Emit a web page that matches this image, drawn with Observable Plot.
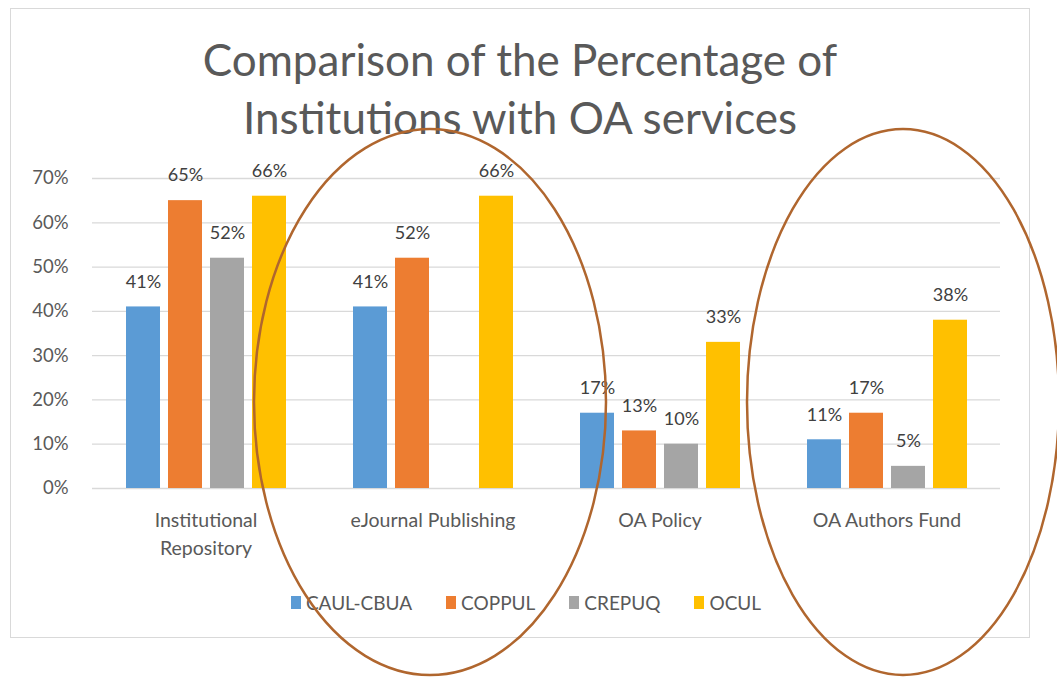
<!DOCTYPE html>
<html>
<head>
<meta charset="utf-8">
<script src="https://cdn.jsdelivr.net/npm/d3@7"></script>
<script src="https://cdn.jsdelivr.net/npm/@observablehq/plot@0.6"></script>
<style>
  html, body { margin: 0; padding: 0; background: #fff; }
  body { width: 1057px; height: 677px; position: relative; overflow: hidden; font-family: Lato, "Open Sans", sans-serif; }
  #frame { position: absolute; left: 10px; top: 8px; width: 1020px; height: 630px; border: 1px solid #d9d9d9; box-sizing: border-box; }
  #title { position: absolute; left: 10px; top: 30px; width: 1020px; text-align: center; font-size: 44px; line-height: 58px; color: #595959; }
  #chart { position: absolute; left: 10px; top: 150px; }
  #legend { position: absolute; left: 16px; top: 590px; width: 1020px; height: 24px; display: flex; justify-content: center; align-items: center; gap: 34px; font-size: 19px; color: #595959; }
  .item { display: flex; align-items: center; gap: 5px; }
  .sw { width: 10px; height: 13px; display: inline-block; }
  #overlay { position: absolute; left: 0; top: 0; pointer-events: none; }
</style>
</head>
<body>
<div id="frame"></div>
<div id="title">Comparison of the Percentage of<br>Institutions with OA services</div>
<div id="chart"></div>
<div id="legend"></div>
<svg id="overlay" width="1057" height="677">
  <ellipse cx="430" cy="402" rx="176" ry="273" fill="none" stroke="#B0662E" stroke-width="2.5"></ellipse>
  <ellipse cx="903" cy="402" rx="156" ry="273" fill="none" stroke="#B0662E" stroke-width="2.5"></ellipse>
</svg>
<script>
const categories = ["Institutional\nRepository", "eJournal Publishing", "OA Policy", "OA Authors Fund"];
const series = ["CAUL-CBUA", "COPPUL", "CREPUQ", "OCUL"];
const caulCbua = [0.41, 0.41, 0.17, 0.11];
const coppul = [0.65, 0.52, 0.13, 0.17];
const crepuq = [0.52, null, 0.10, 0.05];
const ocul = [0.66, 0.66, 0.33, 0.38];
const yTicks = [0, 0.1, 0.2, 0.3, 0.4, 0.5, 0.6, 0.7];
const colors = ["#5B9BD5", "#ED7D31", "#A5A5A5", "#FFC000"];

const seriesValues = [caulCbua, coppul, crepuq, ocul];
const rows = [];
categories.forEach((cat, i) => {
  series.forEach((s, j) => {
    const v = seriesValues[j][i];
    if (v != null) rows.push({cat, series: s, value: v});
  });
});

const pct = d3.format(".0%");

const chart = Plot.plot({
  width: 1020,
  height: 420,
  marginLeft: 82,
  marginRight: 30,
  marginTop: 28,
  marginBottom: 82,
  style: {fontFamily: "Lato, 'Open Sans', sans-serif", background: "transparent"},
  fx: {domain: categories, padding: 0, label: null},
  x: {domain: series, paddingInner: 0.2, paddingOuter: 0.77, axis: null},
  y: {domain: [0, 0.7], label: null},
  color: {domain: series, range: colors},
  marks: [
    Plot.gridY(yTicks, {stroke: "#d9d9d9", strokeOpacity: 1, strokeWidth: 1.3}),
    Plot.axisY(yTicks, {tickFormat: pct, tickSize: 0, tickPadding: 24, fontSize: 18.5, fill: "#595959", label: null}),
    Plot.axisFx({anchor: "bottom", tickSize: 0, tickPadding: 18, fontSize: 19.5, fill: "#595959", lineHeight: 1.45, label: null}),
    Plot.barY(rows, {fx: "cat", x: "series", y: "value", fill: "series"}),
    Plot.text(rows, {fx: "cat", x: "series", y: "value", text: d => pct(d.value), dy: -25, fontSize: 18, fill: "#404040"})
  ]
});
document.getElementById("chart").appendChild(chart);

const legend = document.getElementById("legend");
series.forEach((s, i) => {
  const item = document.createElement("div");
  item.className = "item";
  const sw = document.createElement("span");
  sw.className = "sw";
  sw.style.background = colors[i];
  const lab = document.createElement("span");
  lab.textContent = s;
  item.appendChild(sw);
  item.appendChild(lab);
  legend.appendChild(item);
});
</script>
</body>
</html>
